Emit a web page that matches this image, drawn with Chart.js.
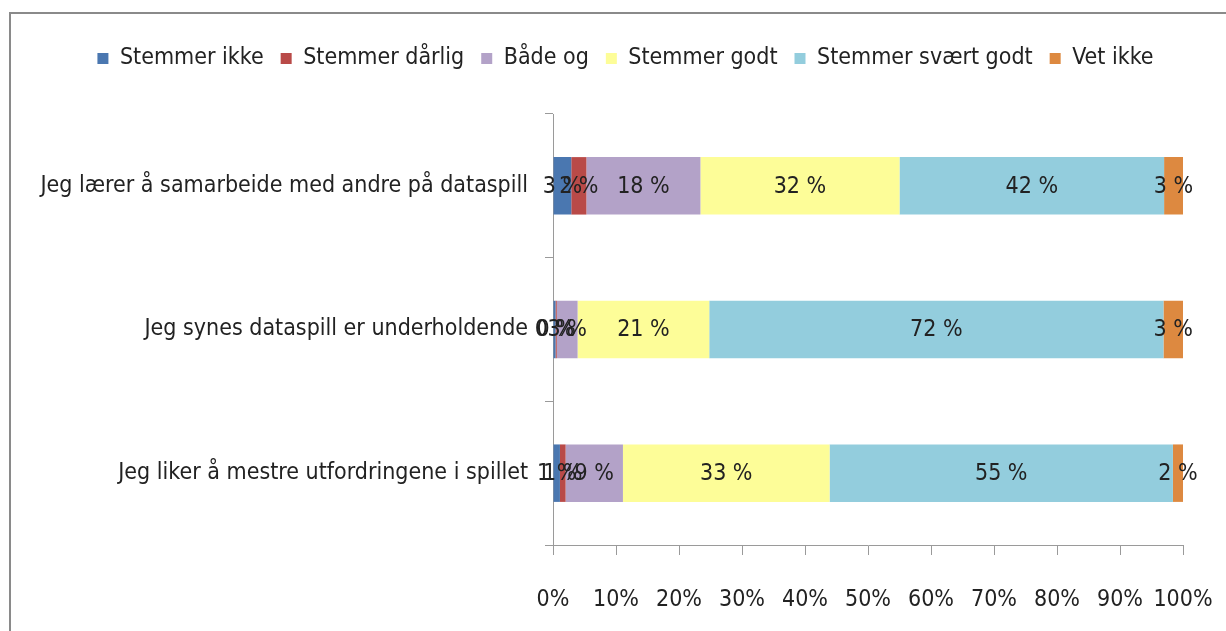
<!DOCTYPE html>
<html>
<head>
<meta charset="utf-8">
<script src="https://cdn.jsdelivr.net/npm/chart.js@4.4.1/dist/chart.umd.min.js"></script>
<style>
html,body{margin:0;padding:0;background:#fff;}
#wrap{position:relative;width:1226px;height:631px;}
</style>
</head>
<body>
<div id="wrap"><canvas id="c" width="1226" height="631"></canvas></div>
<script>
const categories = [
  "Jeg lærer å samarbeide med andre på dataspill",
  "Jeg synes dataspill er underholdende",
  "Jeg liker å mestre utfordringene i spillet"
];
const seriesNames = ["Stemmer ikke","Stemmer dårlig","Både og","Stemmer godt","Stemmer svært godt","Vet ikke"];
const stemmerIkke     = [2.9, 0.4, 1.1];
const stemmerDarlig   = [2.4, 0.2, 0.9];
const badeOg          = [18.1, 3.3, 9.1];
const stemmerGodt     = [31.6, 20.9, 32.8];
const stemmerSvartGodt= [42.0, 72.1, 54.5];
const vetIkke         = [3.0, 3.1, 1.6];
const xTicks = [0,10,20,30,40,50,60,70,80,90,100];
const colors = ["#4a77b0","#b94a48","#b3a2c8","#fdfd98","#93cddd","#dd8940"];

const FONT = "'Liberation Sans Narrow','DejaVu Sans Condensed','Liberation Sans',sans-serif";
const seriesData = [stemmerIkke, stemmerDarlig, badeOg, stemmerGodt, stemmerSvartGodt, vetIkke];

const frame = {
  id:'frame',
  beforeInit(chart){
    const lg = chart.legend;
    if (lg) {
      const origFit = lg.fit;
      lg.fit = function(){ origFit.call(this); this.height = 84; };
      const origDraw = lg.draw;
      lg.draw = function(){
        const ctx = this.ctx;
        ctx.save();
        ctx.translate(34, 0);
        origDraw.apply(this, arguments);
        ctx.restore();
      };
    }
  },
  beforeDraw(chart){
    const ctx = chart.ctx;
    ctx.save();
    ctx.fillStyle = '#fff';
    ctx.fillRect(0,0,chart.width,chart.height);
    ctx.strokeStyle = '#8a8a8a';
    ctx.lineWidth = 2;
    ctx.strokeRect(10, 13, 1400, 800);
    ctx.restore();
  }
};

const labelsPlugin = {
  id:'segLabels',
  afterDatasetsDraw(chart){
    const ctx = chart.ctx;
    ctx.save();
    ctx.font = "23px " + FONT;
    ctx.fillStyle = '#222';
    ctx.textAlign = 'center';
    ctx.textBaseline = 'middle';
    chart.data.datasets.forEach((ds, i) => {
      const meta = chart.getDatasetMeta(i);
      meta.data.forEach((bar, j) => {
        const v = ds.data[j];
        const p = bar.getProps(['x','base','y'], true);
        const cx = (p.x + p.base) / 2;
        ctx.fillText(Math.round(v) + " %", cx, p.y + 1);
      });
    });
    ctx.restore();
  }
};

new Chart(document.getElementById('c'), {
  type: 'bar',
  data: {
    labels: categories,
    datasets: seriesNames.map((n, i) => ({
      label: n,
      data: seriesData[i],
      backgroundColor: colors[i],
      borderWidth: 0,
      categoryPercentage: 1,
      barPercentage: 0.4
    }))
  },
  options: {
    responsive: false,
    animation: false,
    indexAxis: 'y',
    layout: { padding: { top: 30, left: 0, right: 43, bottom: 0 } },
    plugins: {
      legend: {
        position: 'top',
        labels: {
          boxWidth: 11, boxHeight: 11,
          padding: 17,
          color: '#222',
          font: { family: FONT, size: 23 }
        }
      },
      tooltip: { enabled: false }
    },
    scales: {
      x: {
        stacked: true,
        min: 0, max: 100,
        afterBuildTicks(scale){ scale.ticks = xTicks.map(v => ({value: v})); },
        afterFit(scale){ scale.height = 86; scale.paddingRight = 0; scale.paddingLeft = 0; },
        border: { color: '#9a9a9a', width: 1 },
        grid: { drawOnChartArea: false, drawTicks: true, tickLength: 10, color: '#9a9a9a' },
        ticks: {
          padding: 31,
          color: '#222',
          font: { family: FONT, size: 23 },
          maxRotation: 0,
          autoSkip: false,
          callback: v => v + "%"
        }
      },
      y: {
        stacked: true,
        afterFit(scale){ scale.width = 553; },
        border: { color: '#9a9a9a', width: 1 },
        grid: { drawOnChartArea: false, drawTicks: true, tickLength: 8, offset: true, color: '#9a9a9a' },
        ticks: {
          padding: 17,
          color: '#222',
          font: { family: FONT, size: 23 }
        }
      }
    }
  },
  plugins: [frame, labelsPlugin]
});
</script>
</body>
</html>
